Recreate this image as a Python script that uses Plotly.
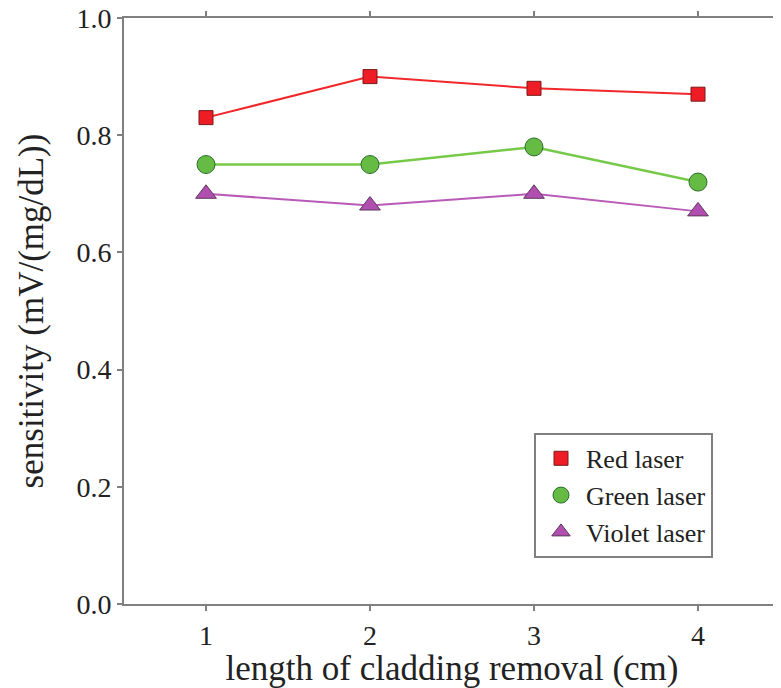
import plotly.graph_objects as go

x_vals = [1, 2, 3, 4]
red = [0.83, 0.90, 0.88, 0.87]
green = [0.75, 0.75, 0.78, 0.72]
violet = [0.70, 0.68, 0.70, 0.67]
y_ticks = [0.0, 0.2, 0.4, 0.6, 0.8, 1.0]

series = [
    ("Red laser", red, "#f0282a", 2, "square", 14, "#ee1c24", "#7a1a1a"),
    ("Green laser", green, "#77c94a", 2.5, "circle", 18, "#66bb44", "#2d6e2d"),
    ("Violet laser", violet, "#b95ab8", 2, "triangle-up", 18, "#b04fb0", "#5a3a5a"),
]

fig = go.Figure()
for name, vals, lc, lw, sym, sz, fc, ec in series:
    fig.add_trace(go.Scatter(x=x_vals, y=vals, mode="lines", showlegend=False,
                             line=dict(color=lc, width=lw), hoverinfo="skip"))
for name, vals, lc, lw, sym, sz, fc, ec in series:
    fig.add_trace(go.Scatter(x=x_vals, y=vals, name=name, mode="markers",
                             marker=dict(symbol=sym, size=sz, color=fc,
                                         line=dict(color=ec, width=1))))

axis_common = dict(showline=True, linecolor="#808080", linewidth=2, mirror="ticks",
                   ticks="outside", tickcolor="#808080", ticklen=5, tickwidth=1.5,
                   showgrid=False, zeroline=False, automargin=False,
                   ticklabeloverflow="allow",
                   tickfont=dict(family="Liberation Serif", size=28, color="#222"))

fig.update_layout(
    width=773, height=680,
    margin=dict(l=116, r=1, t=10, b=84),
    plot_bgcolor="white", paper_bgcolor="white",
    font=dict(family="Liberation Serif", color="#222"),
    xaxis=dict(range=[0.5, 4.5], tickvals=x_vals, ticktext=[str(v) for v in x_vals],
               title=dict(text="length of cladding removal (cm)", font=dict(size=35), standoff=2),
               **axis_common),
    yaxis=dict(range=[0, 1.0], tickvals=y_ticks, ticktext=[f"{v:.1f}" for v in y_ticks],
               title=dict(text="sensitivity (mV/(mg/dL))", font=dict(size=35), standoff=22),
               **axis_common),
    legend=dict(x=0.625, y=0.292, xanchor="left", yanchor="top",
                bordercolor="#808080", borderwidth=2, bgcolor="white",
                font=dict(family="Liberation Serif", size=26, color="#222"),
                tracegroupgap=0, itemwidth=40),
    showlegend=True,
)

fig.write_html("out.html")
